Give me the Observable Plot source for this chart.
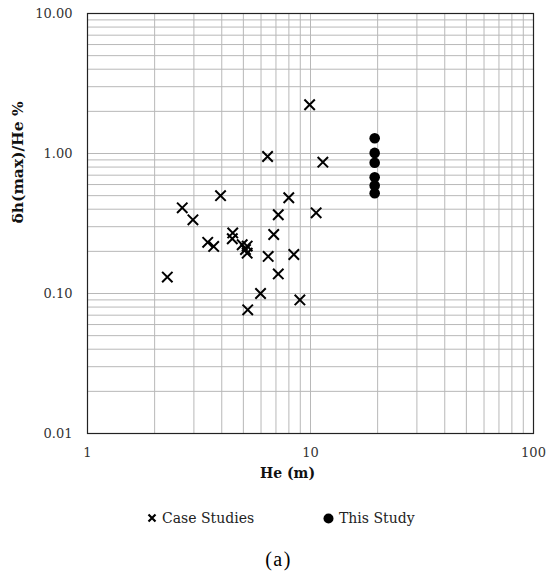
<!DOCTYPE html>
<html><head><meta charset="utf-8">
<script src="https://cdn.jsdelivr.net/npm/d3@7"></script>
<script src="https://cdn.jsdelivr.net/npm/@observablehq/plot@0.6"></script>
<style>
body{margin:0;background:#fff;font-family:"DejaVu Serif",serif;}
#wrap{width:553px;position:relative;}
#legend{position:relative;height:80px;color:#222;font-size:14px;}
.item{position:absolute;top:15px;display:flex;align-items:center;gap:5px;line-height:16px;}
#cap{position:absolute;left:0;width:557px;text-align:center;top:53px;font-size:20px;letter-spacing:1.5px;font-family:"Liberation Serif",serif;color:#000;}
</style></head><body>
<div id="wrap"><div id="chart"></div>
<div id="legend">
  <div class="item" style="left:147px"><svg width="10" height="10"><path d="M1.5,1.5L8.5,8.5M8.5,1.5L1.5,8.5" stroke="#000" stroke-width="2.2"/></svg><span>Case Studies</span></div>
  <div class="item" style="left:323px"><svg width="11" height="11"><circle cx="5.5" cy="5.5" r="5" fill="#000"/></svg><span>This Study</span></div>
  <div id="cap">(a)</div>
</div></div>
<script>
// Case studies
const caseHe    = [3.95, 7.99, 10.6, 2.66, 7.17, 2.97, 6.84, 4.48, 4.46, 3.46, 3.68, 4.94, 5.20, 5.11, 5.20, 6.46, 8.42, 7.17, 2.28, 5.97, 8.96, 5.23, 6.42, 9.91, 11.36];
const caseRatio = [0.50, 0.483, 0.377, 0.409, 0.365, 0.336, 0.264, 0.271, 0.246, 0.232, 0.217, 0.223, 0.218, 0.206, 0.194, 0.184, 0.190, 0.138, 0.131, 0.100, 0.090, 0.0765, 0.952, 2.23, 0.867];
// This study
const thisHe    = [19.4, 19.4, 19.4, 19.4, 19.4, 19.4];
const thisRatio = [1.285, 1.01, 0.858, 0.677, 0.591, 0.52];
// Axis ticks
const xTicks = [1, 10, 100];
const yTicks = [0.01, 0.1, 1, 10];
const xGrid = [1,2,3,4,5,6,7,8,9,10,20,30,40,50,60,70,80,90,100];
const yGrid = [0.01,0.02,0.03,0.04,0.05,0.06,0.07,0.08,0.09,0.1,0.2,0.3,0.4,0.5,0.6,0.7,0.8,0.9,1,2,3,4,5,6,7,8,9,10];

const caseData = caseHe.map((h, i) => ({he: h, r: caseRatio[i]}));
const thisData = thisHe.map((h, i) => ({he: h, r: thisRatio[i]}));

const chart = Plot.plot({
  width: 553, height: 495,
  marginTop: 13, marginBottom: 62, marginLeft: 87, marginRight: 20,
  style: {fontFamily: "DejaVu Serif, serif", fontSize: "13px", color: "#000", background: "#fff"},
  x: {type: "log", domain: [1, 100]},
  y: {type: "log", domain: [0.01, 10]},
  marks: [
    Plot.ruleX(xGrid, {stroke: "#b8b8b8", strokeWidth: 1, strokeOpacity: 1}),
    Plot.ruleY(yGrid, {stroke: "#b8b8b8", strokeWidth: 1, strokeOpacity: 1}),
    Plot.frame({stroke: "#222", strokeWidth: 1.2}),
    Plot.axisX({ticks: xTicks, tickFormat: d3.format("d"), tickSize: 0, tickPadding: 14, label: null, fill: "#333", fontSize: 13}),
    Plot.axisY({ticks: yTicks, tickFormat: d3.format(".2f"), tickSize: 0, tickPadding: 15, label: null, fill: "#333", fontSize: 13}),
    Plot.dot(caseData, {x: "he", y: "r", symbol: "times", r: 4.8, stroke: "#000", strokeWidth: 2}),
    Plot.dot(thisData, {x: "he", y: "r", r: 5.3, fill: "#000", stroke: "none"}),
    Plot.text(["He (m)"], {frameAnchor: "bottom", dy: 44, dx: -23, fontWeight: "bold", fontSize: 14, fill: "#111"}),
    Plot.text(["δh(max)/He %"], {frameAnchor: "left", dx: -69, rotate: -90, fontWeight: "bold", fontSize: 15.5, fill: "#111"})
  ]
});
document.getElementById("chart").appendChild(chart);
</script>
</body></html>
